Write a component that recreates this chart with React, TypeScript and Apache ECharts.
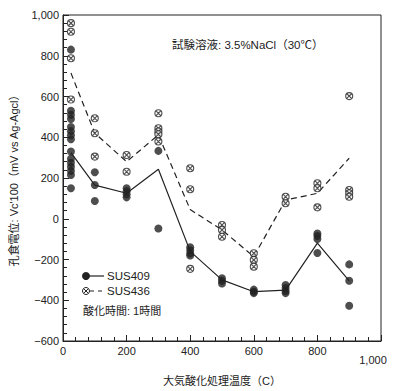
import React, { useEffect, useRef } from "react";
import * as echarts from "echarts";

// Temperatures (°C) at which measurements were taken
const temps = [25, 100, 200, 300, 400, 500, 600, 700, 800, 900];

// SUS409 individual measurements (mV) per temperature
const sus409Points = [
  [830, 530, 510, 490, 450, 430, 410, 390, 330, 295, 275, 255, 235, 215, 150],
  [228, 166, 87],
  [150, 135, 120, 105],
  [333, -48],
  [-140, -155, -170, -180],
  [-292, -305, -318],
  [-348, -358, -365],
  [-325, -340, -355, -365],
  [-72, -85, -100, -168],
  [-224, -304, -427],
];

// SUS436 individual measurements (mV) per temperature
const sus436Points = [
  [960, 918, 788, 585],
  [493, 420, 305],
  [313, 231],
  [518, 444, 428, 415, 379],
  [248, 145, -246],
  [-31, -55, -88],
  [-169, -202, -235],
  [108, 76],
  [174, 150, 56],
  [602, 141, 125, 108],
];

// Mean lines
const sus409Mean = [325, 165, 125, 243, -160, -300, -358, -350, -120, -305];
const sus436Mean = [715, 420, 280, 412, 45, -55, -186, 92, 125, 297];

const xLabel = "大気酸化処理温度（C）";
const yLabel = "孔食電位: Vc'100（mV vs Ag-Agcl）";
const noteText = "試験溶液: 3.5%NaCl（30℃）";
const legendNames = ["SUS409", "SUS436"];
const timeText = "酸化時間: 1時間";

const FONT = "'Liberation Sans', 'Noto Sans CJK JP', sans-serif";
const INK = "#222";

const crossCircle =
  "path://M0,5A5,5 0 1,1 10,5A5,5 0 1,1 0,5Z M2,2L8,8M8,2L2,8";

export default function App() {
  const ref = useRef<HTMLDivElement>(null);
  useEffect(() => {
    if (!ref.current) return;
    const chart = echarts.init(ref.current, undefined, { renderer: "svg" });
    const flat = (pts: number[][]) =>
      pts.flatMap((vals, i) => vals.map((v) => [temps[i], v]));
    const fmt = (v: number) => {
      if (v === 1000) return "1,000";
      if (v < 0) return "\u2212" + Math.abs(v);
      return String(v);
    };
    chart.setOption({
      animation: false,
      grid: {
        left: 60,
        right: 22,
        top: 15,
        bottom: 50,
        show: true,
        borderColor: INK,
        borderWidth: 1,
      },
      xAxis: {
        type: "value",
        min: 0,
        max: 1000,
        interval: 200,
        name: xLabel,
        nameLocation: "middle",
        nameGap: 34,
        nameTextStyle: { fontFamily: FONT, fontSize: 11, color: INK },
        axisLine: { show: true, onZero: false, lineStyle: { color: INK } },
        axisTick: { show: true, inside: true, length: 6, lineStyle: { color: INK } },
        minorTick: { show: true, splitNumber: 5, length: 4, lineStyle: { color: INK } },
        splitLine: { show: false },
        axisLabel: {
          fontFamily: FONT,
          fontSize: 11,
          color: INK,
          margin: 4,
          formatter: (v: number) => (v === 1000 ? "{k|1,000}" : fmt(v)),
          rich: {
            k: { fontFamily: FONT, fontSize: 11, color: INK, padding: [10, 16, 0, 0] },
          },
        },
      },
      yAxis: {
        type: "value",
        min: -600,
        max: 1000,
        interval: 200,
        name: yLabel,
        nameLocation: "middle",
        nameRotate: 90,
        nameGap: 44,
        nameTextStyle: { fontFamily: FONT, fontSize: 11, color: INK },
        axisLine: { show: true, onZero: false, lineStyle: { color: INK } },
        axisTick: { show: true, inside: true, length: 6, lineStyle: { color: INK } },
        minorTick: { show: true, splitNumber: 5, length: 4, lineStyle: { color: INK } },
        splitLine: { show: false },
        axisLabel: {
          fontFamily: FONT,
          fontSize: 11,
          color: INK,
          margin: 4,
          formatter: fmt,
        },
      },
      series: [
        {
          name: legendNames[0] + " mean",
          type: "line",
          data: temps.map((t, i) => [t, sus409Mean[i]]),
          showSymbol: false,
          symbol: "none",
          lineStyle: { color: INK, width: 1.2, type: "solid" },
          z: 2,
        },
        {
          name: legendNames[1] + " mean",
          type: "line",
          data: temps.map((t, i) => [t, sus436Mean[i]]),
          showSymbol: false,
          symbol: "none",
          lineStyle: { color: INK, width: 1.2, type: [6, 4] },
          z: 2,
        },
        {
          name: legendNames[0],
          type: "scatter",
          data: flat(sus409Points),
          symbol: "circle",
          symbolSize: 8,
          itemStyle: { color: INK },
          z: 3,
        },
        {
          name: legendNames[1],
          type: "scatter",
          data: flat(sus436Points),
          symbol: crossCircle,
          symbolSize: 7,
          itemStyle: { color: "#fff", borderColor: INK, borderWidth: 1.1 },
          z: 4,
        },
      ],
      graphic: [
        {
          type: "text",
          left: 172,
          top: 39,
          style: { text: noteText, fontFamily: FONT, fontSize: 11.5, fill: INK },
        },
        {
          type: "circle",
          shape: { cx: 86, cy: 276, r: 4 },
          style: { fill: INK },
        },
        {
          type: "line",
          shape: { x1: 88, y1: 276, x2: 104, y2: 276 },
          style: { stroke: INK, lineWidth: 1.2 },
        },
        {
          type: "text",
          left: 107,
          top: 270,
          style: { text: legendNames[0], fontFamily: FONT, fontSize: 11.5, fill: INK },
        },
        {
          type: "circle",
          shape: { cx: 86, cy: 291, r: 3.5 },
          style: { fill: "#fff", stroke: INK, lineWidth: 1 },
        },
        {
          type: "line",
          shape: { x1: 84, y1: 289, x2: 88, y2: 293 },
          style: { stroke: INK, lineWidth: 1 },
        },
        {
          type: "line",
          shape: { x1: 88, y1: 289, x2: 84, y2: 293 },
          style: { stroke: INK, lineWidth: 1 },
        },
        {
          type: "line",
          shape: { x1: 90, y1: 291, x2: 104, y2: 291 },
          style: { stroke: INK, lineWidth: 1.2, lineDash: [4, 4] },
        },
        {
          type: "text",
          left: 107,
          top: 285,
          style: { text: legendNames[1], fontFamily: FONT, fontSize: 11.5, fill: INK },
        },
        {
          type: "text",
          left: 83,
          top: 305,
          style: { text: timeText, fontFamily: FONT, fontSize: 11, fill: INK },
        },
      ],
    });
    return () => chart.dispose();
  }, []);
  return (
    <div
      ref={ref}
      style={{ position: "absolute", left: 0, top: 0, width: 403, height: 391 }}
    />
  );
}
